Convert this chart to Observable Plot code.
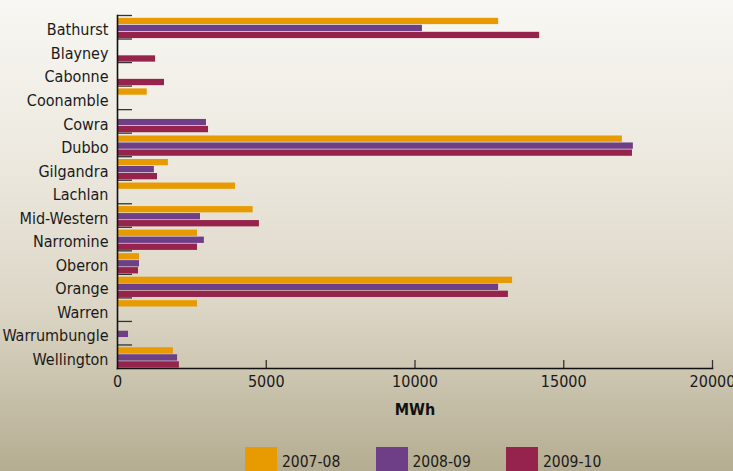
<!DOCTYPE html>
<html>
<head>
<meta charset="utf-8">
<script src="https://cdn.jsdelivr.net/npm/d3@7"></script>
<script src="https://cdn.jsdelivr.net/npm/@observablehq/plot@0.6"></script>
<style>
  html, body { margin: 0; padding: 0; }
  body {
    width: 733px; height: 471px; overflow: hidden; position: relative;
    background: linear-gradient(to bottom, #f8f7f3 0%, #ece8de 35%, #dcd6c6 65%, #b5ad91 100%);
    font-family: "DejaVu Sans Condensed", "DejaVu Sans", sans-serif;
  }
  #chart svg { display: block; }
  #legend { position: absolute; left: 245px; top: 447px; display: flex; }
  .item { display: flex; width: 130.5px; align-items: flex-start; }
  .sw { width: 32px; height: 26px; margin-right: 5px; }
  .lab { font-size: 15.5px; color: #1a1a1a; padding-top: 6px; }
</style>
</head>
<body>
<div id="chart"></div>
<div id="legend"></div>
<script>
const regions = ["Bathurst","Blayney","Cabonne","Coonamble","Cowra","Dubbo","Gilgandra","Lachlan","Mid-Western","Narromine","Oberon","Orange","Warren","Warrumbungle","Wellington"];
const series = ["2007-08","2008-09","2009-10"];
const colors = ["#e89b00","#6e3f86","#95234c"];
const v0708 = [12810, null, null, 1000, null, 16970, 1710, 3970, 4560, 2690, 740, 13280, 2690, null, 1880];
const v0809 = [10250, null, null, null, 2990, 17340, 1240, null, 2790, 2920, 740, 12810, null, 370, 2020];
const v0910 = [14190, 1280, 1580, null, 3060, 17310, 1345, null, 4770, 2690, 706, 13140, null, null, 2080];
const xTicks = [0, 5000, 10000, 15000, 20000];

const W = 733, H = 440, mL = 117, mR = 21, mT = 15, mB = 72;
const bw = (H - mT - mB) / regions.length;
const barH = 6.3;
const values = [v0708, v0809, v0910];
const tops = [2.8, 9.8, 16.8];

const barMarks = values.map((vals, k) => Plot.barX(
  regions.map((r, i) => ({region: r, value: vals[i]})).filter(d => d.value != null),
  {y: "region", x: "value", fill: colors[k], insetTop: tops[k], insetBottom: bw - tops[k] - barH}
));

const chart = Plot.plot({
  width: W, height: H,
  marginLeft: mL, marginRight: mR, marginTop: mT, marginBottom: mB,
  style: {background: "transparent", fontFamily: "'DejaVu Sans Condensed', 'DejaVu Sans', sans-serif", color: "#1a1a1a", overflow: "visible"},
  x: {domain: [0, 20000]},
  y: {domain: regions, padding: 0, round: false},
  marks: [
    Plot.tickY(regions, {y: d => d, dy: -bw / 2, insetRight: W - mL - mR - 15, stroke: "#333", strokeWidth: 1.3}),
    Plot.tickX(xTicks.slice(1), {x: d => d, insetTop: H - mT - mB - 8, stroke: "#333", strokeWidth: 1.3}),
    ...barMarks,
    Plot.frame({anchor: "left", stroke: "#111", strokeWidth: 1.6}),
    Plot.frame({anchor: "bottom", stroke: "#111", strokeWidth: 1.6}),
    Plot.axisY({tickSize: 0, tickPadding: 9, fontSize: 16, dy: 3, label: null}),
    Plot.axisX({ticks: xTicks, tickFormat: d => String(d), tickSize: 0, tickPadding: 7, fontSize: 16, label: null}),
    Plot.text(["MWh"], {frameAnchor: "bottom", dy: 46, fontWeight: "bold", fontSize: 16, fill: "#111"})
  ]
});
document.getElementById("chart").appendChild(chart);

const legend = document.getElementById("legend");
series.forEach((s, k) => {
  const it = document.createElement("div"); it.className = "item";
  const sw = document.createElement("div"); sw.className = "sw"; sw.style.background = colors[k];
  const lab = document.createElement("div"); lab.className = "lab"; lab.textContent = s;
  it.appendChild(sw); it.appendChild(lab); legend.appendChild(it);
});
</script>
</body>
</html>
